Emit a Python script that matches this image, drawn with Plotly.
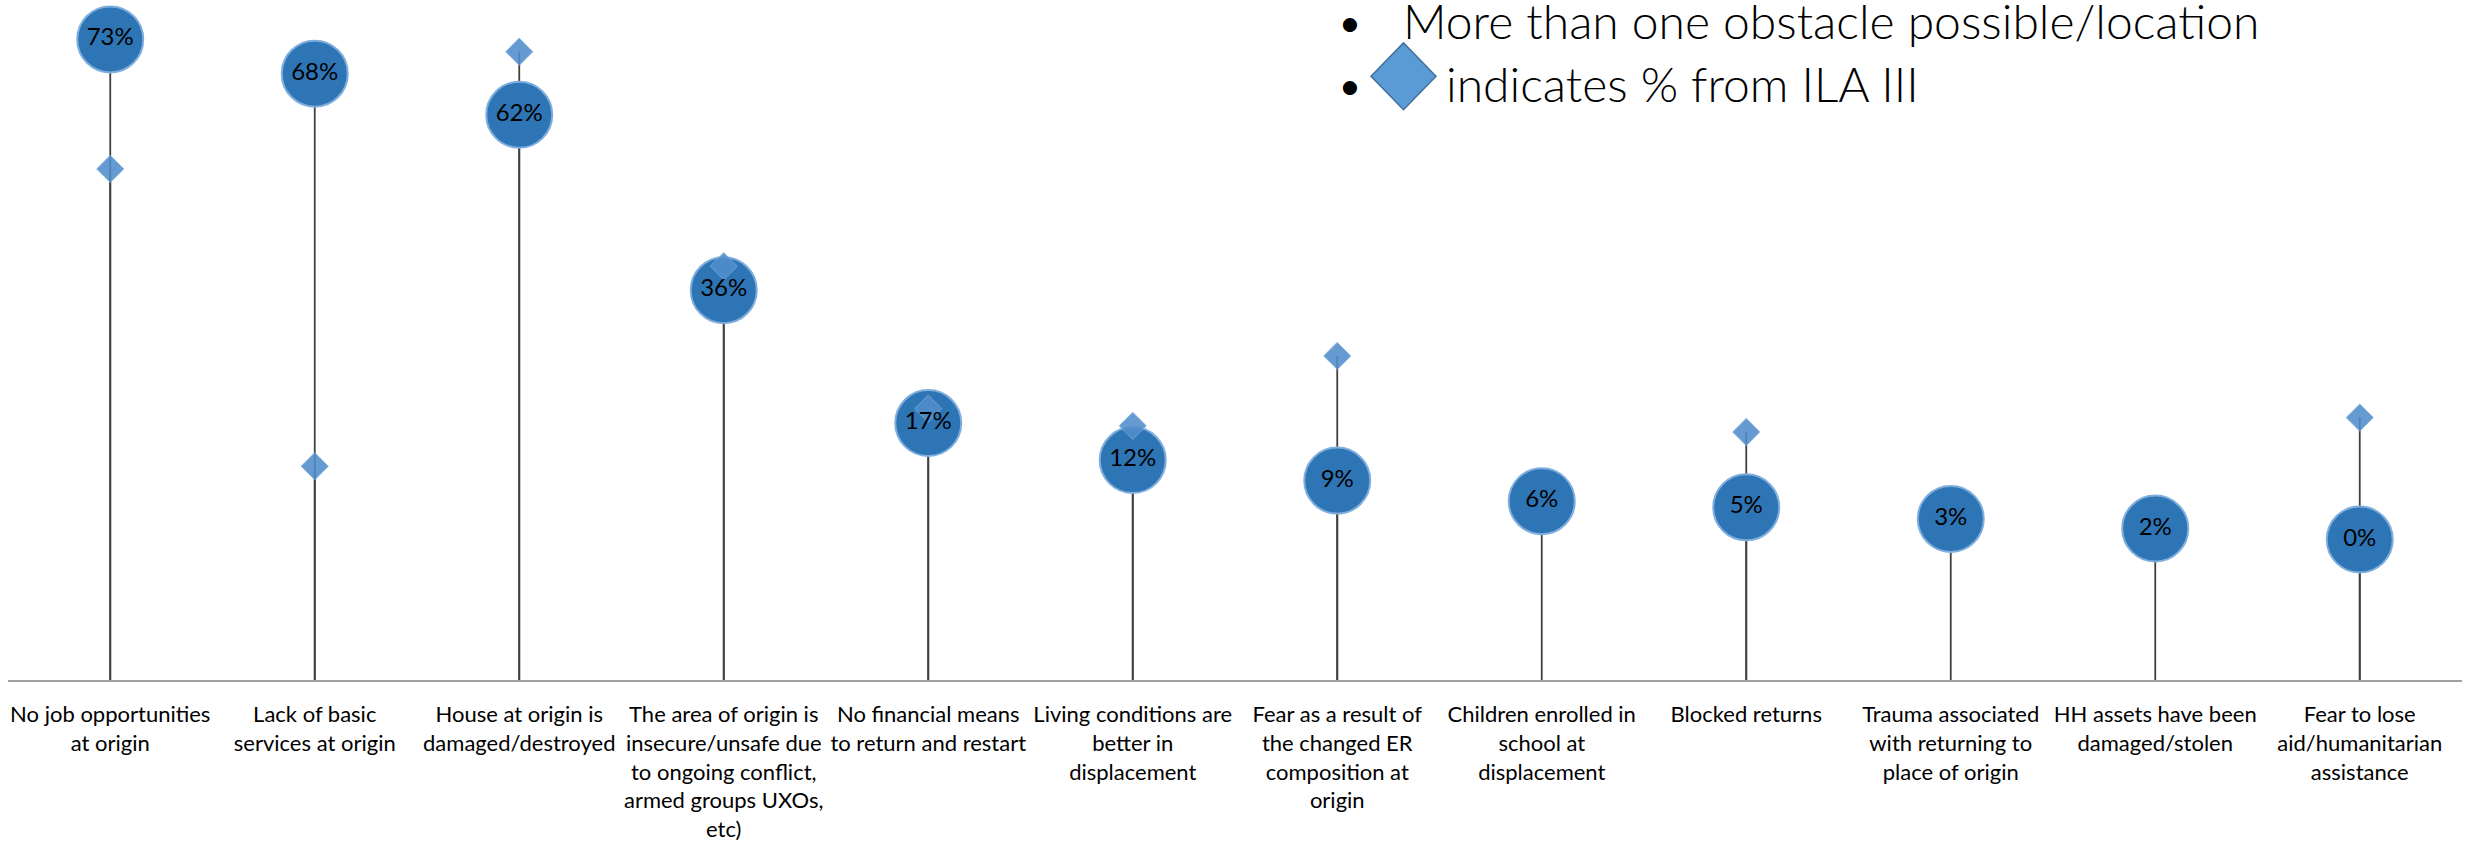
import plotly.graph_objects as go

# ---- data ----
categories = [
    "No job opportunities<br>at origin",
    "Lack of basic<br>services at origin",
    "House at origin is<br>damaged/destroyed",
    "The area of origin is<br>insecure/unsafe due<br>to ongoing conflict,<br>armed groups UXOs,<br>etc)",
    "No financial means<br>to return and restart",
    "Living conditions are<br>better in<br>displacement",
    "Fear as a result of<br>the changed ER<br>composition at<br>origin",
    "Children enrolled in<br>school at<br>displacement",
    "Blocked returns",
    "Trauma associated<br>with returning to<br>place of origin",
    "HH assets have been<br>damaged/stolen",
    "Fear to lose<br>aid/humanitarian<br>assistance",
]
current_pct = [73, 68, 62, 36.4, 17, 11.6, 8.6, 5.6, 4.7, 3.0, 1.6, 0.0]
ila3_pct = [54.1, 10.7, 71.2, 39.9, 19.1, 16.6, 26.8, None, 15.7, None, None, 17.8]
labels = [f"{int(v + 0.5)}%" for v in current_pct]

legend_lines = ["More than one obstacle possible/location", "indicates % from ILA III"]

# ---- layout constants ----
W, H = 2468, 842
ML, MR, MT, MB = 8, 6, 0, 160
Y_RANGE = [-20.5, 78.75]
PW, PH = W - ML - MR, H - MT - MB

def px_x(px):
    return (px - ML) / PW

def px_y(py):
    return (H - MB - py) / PH

TICK_FONT = "Lato"

fig = go.Figure()

# drop lines (stems) from axis base to each point of both series
sx, sy = [], []
for series in (current_pct, ila3_pct):
    for c, v in zip(categories, series):
        if v is None:
            continue
        sx += [c, c, None]
        sy += [Y_RANGE[0], v, None]
fig.add_trace(go.Scatter(
    x=sx, y=sy, mode="lines",
    line=dict(color="#404040", width=1.8),
    hoverinfo="skip", showlegend=False, cliponaxis=False,
))

# circles: current values
fig.add_trace(go.Scatter(
    x=categories, y=current_pct, mode="markers",
    marker=dict(symbol="circle", size=66, color="#2E75B6",
                line=dict(color="#7FAEDD", width=2)),
    showlegend=False, cliponaxis=False,
))

# diamonds: ILA III
fig.add_trace(go.Scatter(
    x=categories, y=ila3_pct, mode="markers",
    marker=dict(symbol="diamond", size=21, color="rgb(82,142,204)", opacity=0.88,
                line=dict(color="rgba(130,175,222,0.8)", width=1)),
    showlegend=False, cliponaxis=False,
))

# value labels on top of everything
fig.add_trace(go.Scatter(
    x=categories, y=current_pct, mode="text",
    text=labels, textposition="middle center",
    textfont=dict(family=TICK_FONT, size=24, color="#000000"),
    hoverinfo="skip", showlegend=False, cliponaxis=False,
))

# ---- legend-like text block ----
LEG_FONT = dict(family="Lato", size=48, color="#000000", weight=300)
annotations = [
    dict(x=px_x(1350), y=px_y(21), text="•", xanchor="center", yanchor="middle"),
    dict(x=px_x(1401), y=px_y(21), text=legend_lines[0], xanchor="left", yanchor="middle"),
    dict(x=px_x(1350), y=px_y(84), text="•", xanchor="center", yanchor="middle"),
    dict(x=px_x(1444), y=px_y(84), text=legend_lines[1], xanchor="left", yanchor="middle"),
]
for a in annotations:
    a.update(xref="paper", yref="paper", showarrow=False, font=LEG_FONT)

cx, cy = px_x(1403.5), px_y(76.5)
hw, hh = 32.5 / PW, 33.5 / PH
diamond_path = (f"M {cx-hw} {cy} L {cx} {cy+hh} L {cx+hw} {cy} L {cx} {cy-hh} Z")

fig.update_layout(
    width=W, height=H,
    margin=dict(l=ML, r=MR, t=MT, b=MB),
    paper_bgcolor="white", plot_bgcolor="white",
    annotations=annotations,
    shapes=[dict(type="path", path=diamond_path, xref="paper", yref="paper",
                 fillcolor="#5B9BD5", line=dict(color="#41719C", width=1.5))],
    xaxis=dict(
        type="category", range=[-0.5, len(categories) - 0.5],
        showgrid=False, zeroline=False,
        showline=True, linecolor="#A0A0A0", linewidth=2,
        ticks="", ticklabelstandoff=14,
        tickfont=dict(family=TICK_FONT, size=22, color="#000000"),
    ),
    yaxis=dict(
        range=Y_RANGE, showgrid=False, zeroline=False,
        showticklabels=False, showline=False, ticks="",
    ),
)

fig.write_html(
    "out.html",
    config={"displayModeBar": False},
    post_script="document.documentElement.style.margin='0';document.body.style.margin='0';document.body.style.overflow='hidden';",
)
